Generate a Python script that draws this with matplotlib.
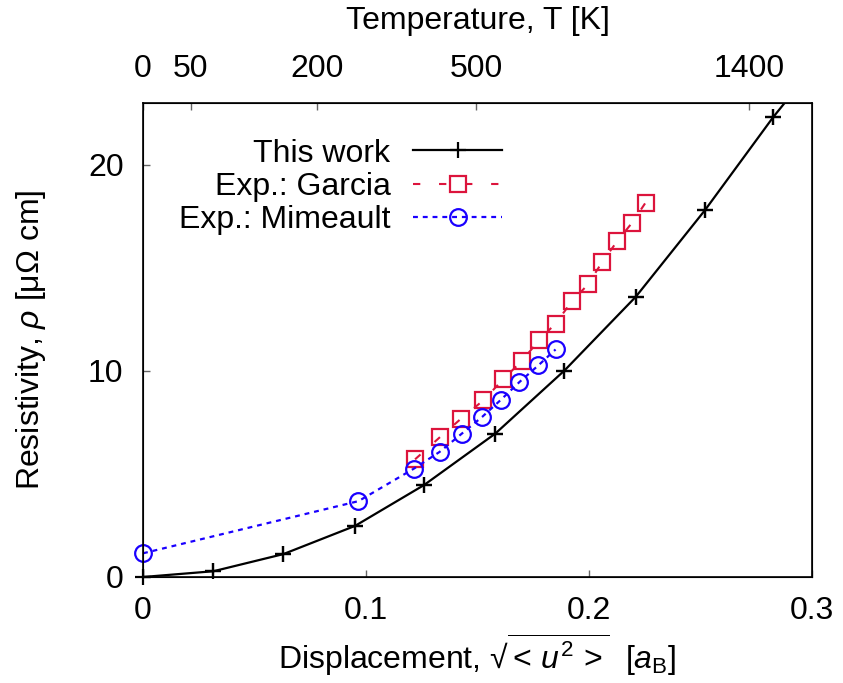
import numpy as np
import matplotlib
matplotlib.use('Agg')
import matplotlib.pyplot as plt

plt.rcParams['font.family'] = ['Liberation Sans', 'DejaVu Sans']
plt.rcParams['mathtext.fontset'] = 'custom'
plt.rcParams['mathtext.rm'] = 'Liberation Sans'
plt.rcParams['mathtext.it'] = 'Liberation Sans:italic'
plt.rcParams['mathtext.bf'] = 'Liberation Sans:bold'

# this work (last point lies outside the frame, line gets clipped)
x_work = [0.0, 0.0316, 0.0629, 0.0951, 0.126, 0.158, 0.189, 0.221, 0.252, 0.2825, 0.316]
rho_work = [0.0, 0.28, 1.11, 2.48, 4.46, 6.96, 10.02, 13.6, 17.8, 22.3, 26.8]

# Exp.: Garcia
x_garcia = [0.122, 0.133, 0.1427, 0.1526, 0.1616, 0.170, 0.1777, 0.185, 0.1925,
            0.1996, 0.206, 0.2127, 0.2194, 0.2254]
rho_garcia = [5.71, 6.77, 7.69, 8.57, 9.6, 10.5, 11.5, 12.3, 13.4, 14.2, 15.3,
              16.3, 17.2, 18.17]

# Exp.: Mimeault
x_mim = [0.0, 0.0966, 0.1215, 0.133, 0.143, 0.1521, 0.1605, 0.1688, 0.1773, 0.185]
rho_mim = [1.15, 3.68, 5.26, 6.07, 6.96, 7.77, 8.6, 9.46, 10.27, 11.04]

# top axis: temperature vs displacement
temp_labels = ['0', '50', '200', '500', '1400']
temp_pos = [0.0, 0.0215, 0.078, 0.1493, 0.2717]

x_ticks = [0, 0.1, 0.2, 0.3]
x_ticklabels = ['0', '0.1', '0.2', '0.3']
y_ticks = [0, 10, 20]

FS = 23
RED = '#dc143c'
BLUE = '#1a00ff'

fig = plt.figure(figsize=(8.43, 6.83), dpi=100)
ax = fig.add_axes([143/843, 1 - 577/683, 669/843, 474/683])

n = len(x_work) - 1
ax.plot(x_work, rho_work, color='k', lw=1.6, marker='+', ms=11, mew=1.6,
        markevery=list(range(n)), label='This work')
ax.plot(x_work[:n], rho_work[:n], ls='none', color='k', marker='+', ms=11,
        mew=1.6, clip_on=False, zorder=5)
ax.plot(x_garcia, rho_garcia, color=RED, lw=1.5, dashes=(3.5, 9), marker='s',
        ms=11, mew=1.6, mfc='none', clip_on=False, label='Exp.: Garcia')
ax.plot(x_mim, rho_mim, color=BLUE, lw=1.6, dashes=(2.2, 2.2), marker='o',
        ms=12, mew=1.6, mfc='none', clip_on=False, label='Exp.: Mimeault')

ax.set_xlim(0, 0.3)
ax.set_ylim(0, 23)
ax.set_xticks(x_ticks)
ax.set_xticklabels(x_ticklabels)
ax.set_yticks(y_ticks)
ax.tick_params(direction='in', length=5, width=1, color='#666666', labelsize=FS,
               pad=14, top=False, right=False)
for s in ax.spines.values():
    s.set_linewidth(1.2)

ax2 = ax.twiny()
ax2.set_xlim(ax.get_xlim())
ax2.set_xticks(temp_pos)
ax2.set_xticklabels(temp_labels)
ax2.tick_params(direction='in', length=5, width=1, color='#666666', labelsize=FS, pad=14)
ax2.set_xlabel('Temperature, T [K]', fontsize=FS, labelpad=18)

ax.set_xlabel('Displacement, $\u221a\\overline{<\\,u^{2}\\,>}$  [$a_{\\mathrm{B}}$]',
              fontsize=FS, labelpad=4)
ax.set_ylabel(r'Resistivity, $\rho$ [μΩ cm]', fontsize=FS, labelpad=29)

ax.legend(loc='upper right', bbox_to_anchor=(0.537, 0.925), frameon=False,
          markerfirst=False, fontsize=FS, handlelength=2.8, handletextpad=0.7,
          labelspacing=0.1, borderpad=0, borderaxespad=0)

fig.savefig('out.png', dpi=100)
